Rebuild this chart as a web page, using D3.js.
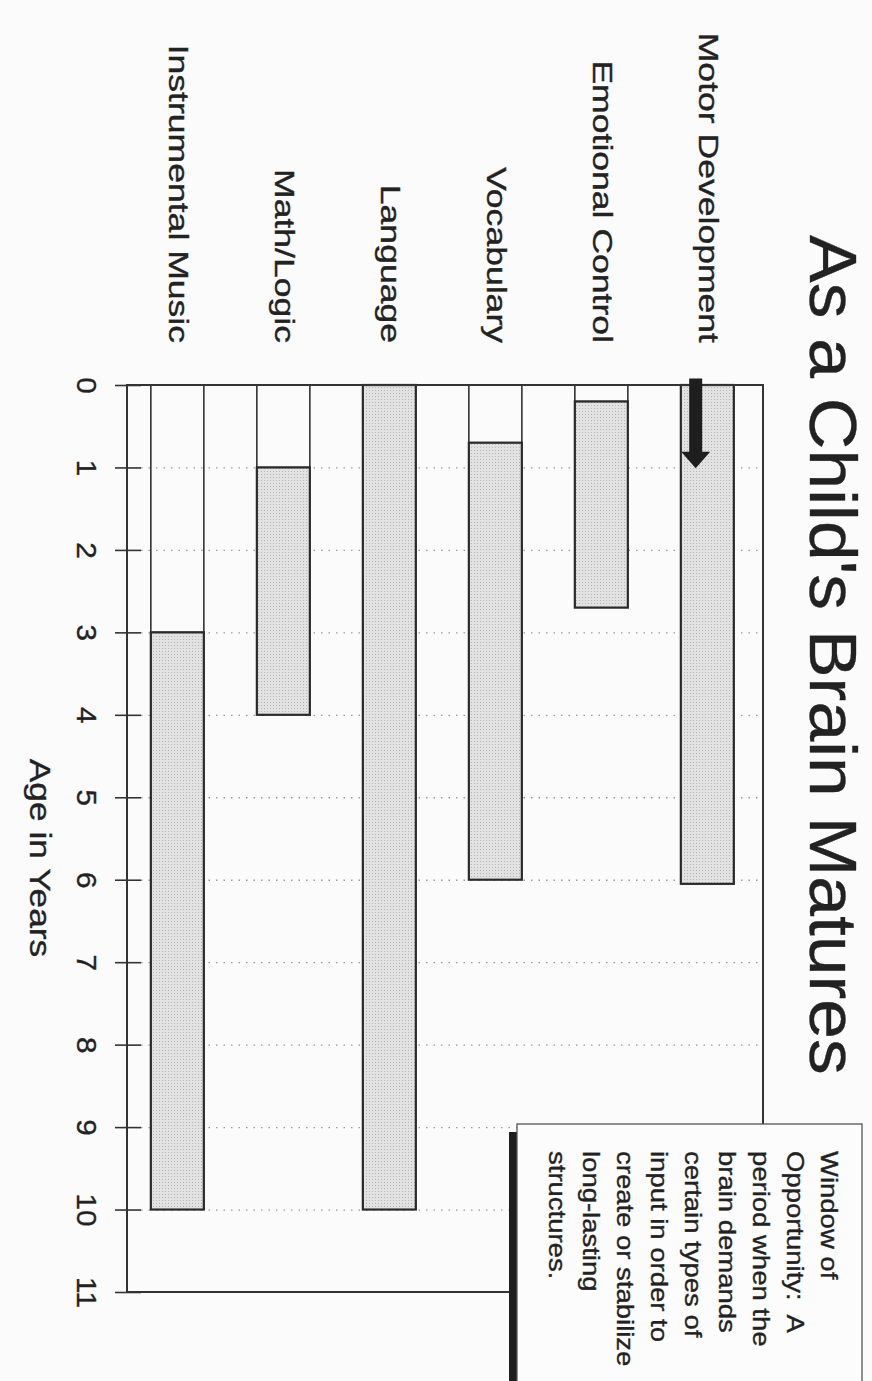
<!DOCTYPE html>
<html>
<head>
<meta charset="utf-8">
<script src="https://cdn.jsdelivr.net/npm/d3@7"></script>
<style>
  body { margin: 0; background: #fbfbfb; }
  svg { display: block; font-family: "Liberation Sans", Arial, Helvetica, sans-serif; }
  text { fill: #222; stroke: #222; stroke-width: 0.35px; }
</style>
</head>
<body>
<div id="chart"></div>
<script>
// DATA
const categories = ["Motor Development", "Emotional Control", "Vocabulary", "Language", "Math/Logic", "Instrumental Music"];
const windowStart = [0, 0.2, 0.7, 0, 1, 3];
const windowEnd = [6.05, 2.7, 6, 10, 4, 10];
const ageTicks = [0, 1, 2, 3, 4, 5, 6, 7, 8, 9, 10, 11];
const titleText = "As a Child's Brain Matures";
const axisLabel = "Age in Years";
const noteLines = ["Window of", "Opportunity:  A", "period when the", "brain demands",
                   "certain types of", "input in order to", "create or stabilize",
                   "long-lasting", "structures."];

// DIMENSIONS (page is drawn turned a quarter clockwise)
let width = 872,
    height = 1381,
    plot = {left: 127, right: 763, top: 385, bottom: 1292},
    note = {left: 517, top: 1124, right: 862};

let rows = categories.map((c, i) => ({cat: c, start: windowStart[i], end: windowEnd[i]}));

let svg = d3.select("#chart")
    .append("svg")
    .attr("width", width)
    .attr("height", height);

// STIPPLE FILL
let pat = svg.append("defs").append("pattern")
    .attr("id", "stipple")
    .attr("width", 3).attr("height", 3)
    .attr("patternUnits", "userSpaceOnUse");
pat.append("rect").attr("width", 3).attr("height", 3).attr("fill", "#e2e2e2");
pat.append("rect").attr("width", 1).attr("height", 1).attr("fill", "#b5b5b5");

// SCALES
let xScale = d3.scaleBand()
    .domain(categories)
    .range([plot.right, plot.left])
    .paddingInner(0.5)
    .paddingOuter(0.25)
    .align(0.45);

let yScale = d3.scaleLinear()
    .domain([0, 11])
    .range([plot.top, plot.bottom]);

// GRID
svg.append("g")
    .attr("transform", "translate(" + (plot.left + 14) + ",0)")
    .call(d3.axisRight(yScale).tickValues(ageTicks.slice(1, -1))
        .tickSize(plot.right - plot.left - 14).tickFormat(""))
    .call(g => g.select(".domain").remove())
    .call(g => g.selectAll("line")
        .attr("stroke", "#9a9a9a")
        .attr("stroke-width", 1.3)
        .attr("stroke-dasharray", "1.5,6"));

// BARS
let bars = svg.append("g").selectAll(".bar")
    .data(rows)
    .enter().append("g")
    .attr("class", "bar");

bars.filter(d => d.start > 0)
    .append("rect")
    .attr("x", d => xScale(d.cat))
    .attr("y", yScale(0))
    .attr("width", xScale.bandwidth())
    .attr("height", d => yScale(d.start) - yScale(0))
    .attr("fill", "none")
    .attr("stroke", "#333")
    .attr("stroke-width", 1.6);

bars.append("rect")
    .attr("x", d => xScale(d.cat))
    .attr("y", d => yScale(d.start))
    .attr("width", xScale.bandwidth())
    .attr("height", d => yScale(d.end) - yScale(d.start))
    .attr("fill", "url(#stipple)")
    .attr("stroke", "#2a2a2a")
    .attr("stroke-width", 2.2);

// FRAME
svg.append("rect")
    .attr("x", plot.left)
    .attr("y", plot.top)
    .attr("width", plot.right - plot.left)
    .attr("height", plot.bottom - plot.top)
    .attr("fill", "none")
    .attr("stroke", "#333")
    .attr("stroke-width", 2);

// AGE AXIS
svg.append("g")
    .attr("transform", "translate(" + (plot.left + 14) + ",0)")
    .call(d3.axisLeft(yScale).tickValues(ageTicks).tickSize(26).tickPadding(0))
    .call(g => g.select(".domain").remove())
    .call(g => g.selectAll("line").attr("stroke", "#333").attr("stroke-width", 1.6))
    .call(g => g.selectAll("text")
        .attr("x", null)
        .attr("dy", "0.36em")
        .attr("text-anchor", "middle")
        .attr("font-size", 27)
        .attr("fill", "#222")
        .attr("transform", "translate(" + (87 - plot.left - 14) + ",0) rotate(90) scale(1.1,1)"));

svg.append("text")
    .attr("transform", "translate(40," + 858 + ") rotate(90) scale(1.22,1)")
    .attr("dy", "0.36em")
    .attr("text-anchor", "middle")
    .attr("font-size", 29)
    .text(axisLabel);

// CATEGORY AXIS
svg.append("g")
    .attr("transform", "translate(0," + (plot.top - 42) + ")")
    .call(d3.axisTop(xScale).tickSize(0).tickPadding(0))
    .call(g => g.select(".domain").remove())
    .call(g => g.selectAll("text")
        .attr("y", null)
        .attr("dy", "0.36em")
        .attr("text-anchor", "end")
        .attr("font-size", 28)
        .attr("fill", "#222")
        .attr("transform", "translate(" + xScale.bandwidth() * 0.03 + ",0) rotate(90) scale(1.27,1)"));

// ARROW
let ax = xScale(categories[0]) + xScale.bandwidth() * 0.28,
    shaft = 6.5, head = 14.5;
let arrow = d3.path();
arrow.moveTo(ax - shaft, yScale(-0.08));
arrow.lineTo(ax + shaft, yScale(-0.08));
arrow.lineTo(ax + shaft, yScale(0.81));
arrow.lineTo(ax + head, yScale(0.81));
arrow.lineTo(ax, yScale(1.01));
arrow.lineTo(ax - head, yScale(0.81));
arrow.lineTo(ax - shaft, yScale(0.81));
arrow.closePath();
svg.append("path")
    .attr("d", arrow.toString())
    .attr("fill", "#1e1e1e");

// NOTE BOX
svg.append("rect")
    .attr("x", note.left - 8)
    .attr("y", note.top + 8)
    .attr("width", 8)
    .attr("height", height - note.top)
    .attr("fill", "#1e1e1e");

svg.append("rect")
    .attr("x", note.left)
    .attr("y", note.top)
    .attr("width", note.right - note.left)
    .attr("height", height - note.top + 10)
    .attr("fill", "#fcfcfc")
    .attr("stroke", "#555")
    .attr("stroke-width", 1.3);

svg.append("g").selectAll("text")
    .data(noteLines)
    .enter().append("text")
    .attr("transform", (d, i) => "translate(" + (829 - i * 34) + "," + (note.top + 27) + ") rotate(90) scale(1.17,1)")
    .attr("dy", "0.36em")
    .attr("font-size", 23.5)
    .style("white-space", "pre")
    .text(d => d);

// TITLE
svg.append("text")
    .attr("transform", "translate(810,235) rotate(90) scale(1.083,1)")
    .attr("font-size", 66)
    .text(titleText);
</script>
</body>
</html>
